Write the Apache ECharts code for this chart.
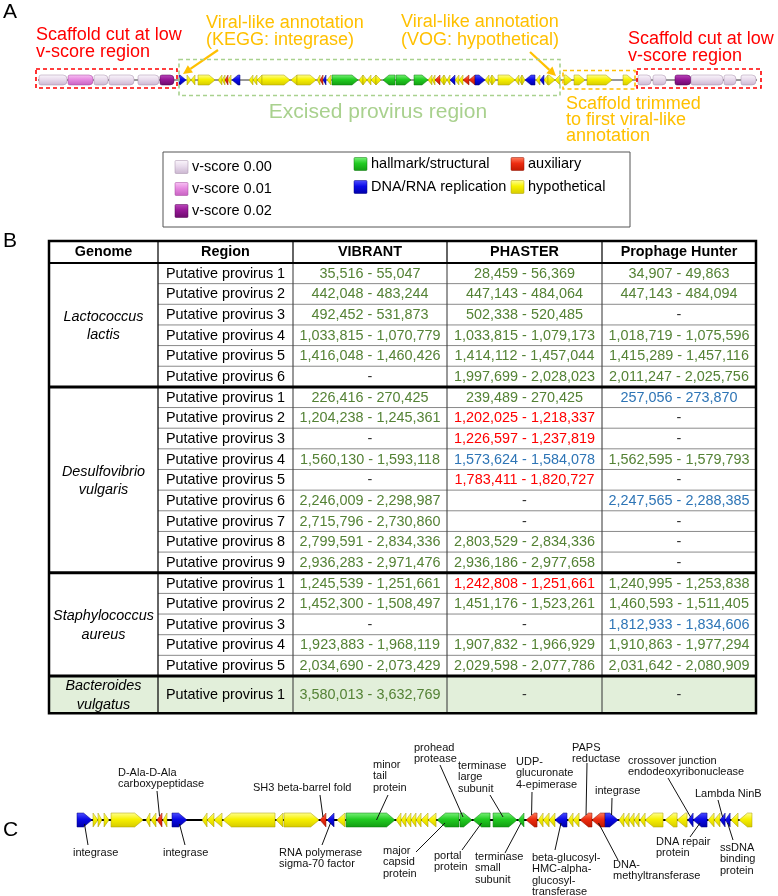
<!DOCTYPE html>
<html>
<head>
<meta charset="utf-8">
<script src="https://cdn.jsdelivr.net/npm/echarts@6/dist/echarts.min.js"></script>
<style>
html,body{margin:0;padding:0;background:#fff;}
#main{width:778px;height:896px;}
</style>
</head>
<body>
<div id="main"></div>
<script>
const FONT = '"Liberation Sans", Arial, Helvetica, sans-serif';

// ================= DATA =================
const geneCategories = ['v-score 0.00','v-score 0.01','v-score 0.02','hallmark/structural','DNA/RNA replication','auxiliary','hypothetical'];

// Panel A genes: [start kb, end kb, strand, category index]
const aGenes = [
 [0.1,2.9,1,0],[3.0,5.5,1,1],[5.6,7.0,1,0],[7.1,9.6,1,0],[10.0,12.1,1,0],[12.2,13.6,1,2],
 [14.1,14.8,1,4],[14.9,15.3,1,6],[15.3,15.7,-1,6],[16.0,17.7,1,6],[18.0,18.4,-1,6],[18.4,18.7,-1,6],[18.7,19.0,-1,5],[19.0,19.3,-1,6],[19.4,20.2,-1,4],
 [21.1,21.5,-1,6],[21.5,21.9,-1,6],[21.9,22.4,-1,6],[22.4,25.2,1,6],[25.3,25.9,-1,6],[25.9,27.8,1,6],[27.9,28.2,-1,6],[28.2,28.5,-1,5],[28.5,28.8,-1,4],[28.9,29.3,-1,6],
 [29.4,32.0,1,3],[32.1,32.5,-1,6],[32.5,32.9,1,6],[32.9,33.3,-1,6],[33.3,33.8,-1,6],[33.8,34.3,1,6],[34.5,35.7,-1,3],[35.8,37.3,1,3],[37.6,39.0,1,3],
 [39.0,39.4,-1,6],[39.4,39.7,-1,6],[39.7,40.2,-1,5],[40.2,40.6,-1,6],[40.6,40.9,1,6],[40.9,41.2,-1,6],[41.2,41.7,-1,4],[41.7,42.1,-1,6],[42.1,42.5,-1,6],[42.5,43.1,-1,5],[43.1,43.7,-1,5],[43.7,44.7,1,4],
 [44.7,45.1,-1,6],[45.1,45.4,-1,6],[45.4,45.8,1,6],[46.0,47.7,1,6],[47.7,48.1,-1,6],[48.1,48.4,-1,6],[48.4,48.7,1,6],[48.7,49.7,-1,4],[49.8,50.2,-1,6],[50.2,50.6,-1,4],[50.6,51.0,-1,6],[51.0,51.7,1,6],[51.7,52.2,-1,6],
 [52.6,53.4,1,6],[53.6,54.7,1,6],[54.9,57.4,1,6],[58.5,59.5,1,6],
 [60.0,61.3,1,0],[61.5,62.8,1,0],[63.7,65.3,1,2],[65.3,68.5,1,0],[68.6,69.8,1,0],[70.3,71.8,1,0]
];
const aTrackLength = 71.9;
// highlighted regions: [start kb, end kb, kind] kind 0 = cut, 1 = excised provirus, 2 = trimmed
const aRegions = [[-0.2,13.9,0],[14.1,52.2,1],[52.5,59.7,2],[59.9,72.3,0]];

// Panel C genes: [start kb, end kb, strand, category index]
const cGenes = [
 [0.00,1.17,1,4],[1.25,1.64,1,6],[1.64,1.95,1,6],[2.11,2.50,1,6],[2.66,5.16,1,6],[5.39,5.70,-1,6],[5.78,6.17,-1,6],
 [6.25,6.64,-1,5],[6.72,7.03,-1,6],[7.42,8.59,1,4],[9.77,10.16,-1,6],[10.16,10.70,-1,6],[10.70,11.33,-1,6],[11.41,15.47,-1,6],
 [15.55,16.09,-1,6],[16.17,18.91,1,6],[18.98,19.45,-1,5],[19.53,20.08,-1,4],[20.31,20.94,-1,6],[21.02,24.84,1,3],
 [24.92,25.31,-1,6],[25.31,25.70,-1,6],[25.70,26.09,-1,6],[26.09,26.48,-1,6],[26.48,26.88,-1,6],[26.88,27.42,-1,6],[27.42,28.05,-1,6],
 [28.13,29.84,-1,3],[29.92,30.86,1,3],[30.94,32.27,-1,3],[32.50,34.38,1,3],[34.45,34.92,-1,3],[35.08,35.94,-1,5],
 [36.02,36.41,-1,6],[36.41,36.88,-1,6],[36.88,37.34,-1,6],[37.34,38.28,-1,4],[38.36,38.75,-1,6],[38.75,39.22,-1,6],
 [39.30,40.23,-1,5],[40.23,41.25,-1,5],[41.25,42.27,1,4],[42.34,42.73,-1,6],[42.73,43.13,-1,6],[43.13,43.52,-1,6],[43.52,43.91,-1,6],
 [43.98,44.38,-1,6],[44.38,45.78,-1,6],[45.94,46.88,-1,6],[46.88,47.66,-1,6],[47.73,48.13,-1,4],[48.13,49.22,-1,4],
 [49.30,49.77,-1,6],[49.77,50.23,-1,6],[50.23,50.63,-1,4],[50.63,51.02,-1,4],[51.09,51.64,-1,6],[51.72,52.73,-1,6]
];
const cTrackLength = 52.73;
// annotations: [gene index, side, text lines]
const cLabels = [
 [7,'top',['D-Ala-D-Ala','carboxypeptidase']],
 [16,'top',['SH3 beta-barrel fold']],
 [19,'top',['minor','tail','protein']],
 [28,'top',['prohead','protease']],
 [30,'top',['terminase','large','subunit']],
 [32,'top',['UDP-','glucuronate','4-epimerase']],
 [39,'top',['PAPS','reductase']],
 [41,'top',['integrase']],
 [50,'top',['crossover junction','endodeoxyribonuclease']],
 [54,'top',['Lambda NinB']],
 [0,'bottom',['integrase']],
 [9,'bottom',['integrase']],
 [17,'bottom',['RNA polymerase','sigma-70 factor']],
 [27,'bottom',['major','capsid','protein']],
 [29,'bottom',['portal','protein']],
 [31,'bottom',['terminase','small','subunit']],
 [36,'bottom',['beta-glucosyl-','HMC-alpha-','glucosyl-','transferase']],
 [40,'bottom',['DNA-','methyltransferase']],
 [51,'bottom',['DNA repair','protein']],
 [55,'bottom',['ssDNA','binding','protein']]
];

// Panel B table
const tableHeader = ['Genome','Region','VIBRANT','PHASTER','Prophage Hunter'];
const genomeNames = [['Lactococcus','lactis'],['Desulfovibrio','vulgaris'],['Staphylococcus','aureus'],['Bacteroides','vulgatus']];
const regionsPerGenome = [6,9,5,1];
const vibrantRanges = [
 [35516,55047],[442048,483244],[492452,531873],[1033815,1070779],[1416048,1460426],null,
 [226416,270425],[1204238,1245361],null,[1560130,1593118],null,[2246009,2298987],[2715796,2730860],[2799591,2834336],[2936283,2971476],
 [1245539,1251661],[1452300,1508497],null,[1923883,1968119],[2034690,2073429],
 [3580013,3632769]
];
const phasterRanges = [
 [28459,56369],[447143,484064],[502338,520485],[1033815,1079173],[1414112,1457044],[1997699,2028023],
 [239489,270425],[1202025,1218337],[1226597,1237819],[1573624,1584078],[1783411,1820727],null,null,[2803529,2834336],[2936186,2977658],
 [1242808,1251661],[1451176,1523261],null,[1907832,1966929],[2029598,2077786],
 null
];
const prophageHunterRanges = [
 [34907,49863],[447143,484094],null,[1018719,1075596],[1415289,1457116],[2011247,2025756],
 [257056,273870],null,null,[1562595,1579793],null,[2247565,2288385],null,null,null,
 [1240995,1253838],[1460593,1511405],[1812933,1834606],[1910863,1977294],[2031642,2080909],
 null
];
// status per row: g = green, r = red, b = blue, - = none
const vibrantStatus        = 'ggggg-' + 'gg-g-gggg' + 'gg-gg' + 'g';
const phasterStatus        = 'gggggg' + 'grrbr--gg' + 'rg-gg' + '-';
const prophageHunterStatus = 'gg-ggg' + 'b--g-b---' + 'ggbgg' + '-';

// ================= STYLE / LAYOUT =================
const catStyle = [
 {top:'#fbf6fc', mid:'#e8dbec', bot:'#cbb6d1', stroke:'#a48ca9'},
 {top:'#f8c2f4', mid:'#e68ae0', bot:'#c760c1', stroke:'#a0449a'},
 {top:'#bb48bb', mid:'#961896', bot:'#6c0a6c', stroke:'#500050'},
 {top:'#7af27a', mid:'#22cc22', bot:'#129c12', stroke:'#0b780b'},
 {top:'#5050ff', mid:'#0a0ae8', bot:'#0000a8', stroke:'#000080'},
 {top:'#ff8060', mid:'#ee2c10', bot:'#c01800', stroke:'#901000'},
 {top:'#ffff96', mid:'#f7f100', bot:'#d6ca00', stroke:'#a89c00'}
];
const regionStyle = [
 {color:'#ff0000', dy0:-11, dy1:8},
 {color:'#a9d18e', dy0:-20.5, dy1:15.5},
 {color:'#ffc000', dy0:-9.5, dy1:9}
];
const statusColor = {g:'#548235', r:'#ff0000', b:'#2e75b6'};
const TABLE = {left:49, top:241, width:707, rowH:20.65, headerSpan:1.065, colEdges:[0,109,244,398,553,707],
  rowSpan:[1,1,1,1.8], shade:[false,false,false,true], font:14.4, nameGap:9.3};
// label layout: [text x, first line y, leader start x, leader start y, end dx, end dy]
const cLabelLayout = [
 [118,773,157,791,0,-4],[253,788,320,795,0,-3],[373,765,388,795,6,0],[414,748,440,765,-3,-3],[458,766,490,795,-2,-3],
 [516,762,532,792,0,-5],[572,748,587,763,0,-5],[595,791,612,798,0,-5],[628,761,668,778,0,-3],[695,794,718,800,0,-3],
 [73,853,88,845,0,4],[163,853,185,845,0,4],[279,853,322,845,0,3],[383,851,416,852,-3,3],[434,856,462,850,0,3],
 [475,857,505,853,0,3],[532,858,555,850,0,3],[613,865,618,860,0,3],[656,842,690,837,0,3],[720,848,733,840,0,3]
];
const legendBox = {x:163, y:152, width:467, height:75};
const legendLayout = [[175,167],[175,189],[175,211],[354,164],[354,187],[511,164],[511,187]];

// ================= HELPERS =================
function grad(st){
  return new echarts.graphic.LinearGradient(0,0,0,1,[{offset:0,color:st.top},{offset:0.45,color:st.mid},{offset:1,color:st.bot}]);
}
function geneRenderer(H, roundedV){
  return function(params, api){
    const s=api.value(0), e=api.value(1), strand=api.value(2), cat=api.value(3);
    const a=api.coord([s,0]), b=api.coord([e,0]);
    const x0=a[0], x1=b[0], y=a[1], w=x1-x0, h=H;
    const st=catStyle[cat];
    if (roundedV && cat<=2) {
      return {type:'rect', shape:{x:x0,y:y-h/2,width:w,height:h,r:[2,4,4,2]}, style:{fill:grad(st), stroke:st.stroke, lineWidth:0.5}};
    }
    const head=Math.min(h*0.6, w);
    let pts;
    if (strand>0) pts=[[x0,y-h/2],[x1-head,y-h/2],[x1,y],[x1-head,y+h/2],[x0,y+h/2]];
    else pts=[[x1,y-h/2],[x0+head,y-h/2],[x0,y],[x0+head,y+h/2],[x1,y+h/2]];
    return {type:'polygon', shape:{points:pts}, style:{fill:grad(st), stroke:st.stroke, lineWidth:0.5}};
  };
}
function txt(t,x,y,opt){
  opt=opt||{};
  return {type:'text', style:{text:t, x:x, y:y, align:opt.align||'left', verticalAlign:'middle',
    fontSize:opt.size||TABLE.font, fontFamily:FONT, fontWeight:opt.weight||'normal', fontStyle:opt.style||'normal', fill:opt.color||'#000'}};
}
function seg(x1,y1,x2,y2,color,w){
  return {type:'line', shape:{x1:x1,y1:y1,x2:x2,y2:y2}, style:{stroke:color, lineWidth:w}};
}
function fmt(n){ return n.toLocaleString('en-US'); }

const rowsData=[]; const genomeBlocks=[];
let tableUnits=TABLE.headerSpan;
(function(){
  let ri=0;
  regionsPerGenome.forEach(function(n,g){
    const start=tableUnits;
    for(let k=0;k<n;k++){ const sp=TABLE.rowSpan[g]; rowsData.push([tableUnits,tableUnits+sp,ri,g,k]); tableUnits+=sp; ri++; }
    genomeBlocks.push([start,tableUnits,g]);
  });
})();
const rangeCols=[vibrantRanges, phasterRanges, prophageHunterRanges];
const statusCols=[vibrantStatus, phasterStatus, prophageHunterStatus];
function colX(api,y){ return TABLE.colEdges.map(function(c){return api.coord([c,y])[0];}); }

function renderRow(params, api){
  const y0=api.value(0), y1=api.value(1), i=api.value(2), g=api.value(3), k=api.value(4);
  const E=colX(api,y0);
  const top=api.coord([0,y0])[1], bot=api.coord([0,y1])[1], cy=(top+bot)/2;
  const ch=[];
  if (TABLE.shade[g]) ch.push({type:'rect', shape:{x:E[1],y:top,width:E[5]-E[1],height:bot-top}, style:{fill:'#e2efda'}});
  ch.push(txt('Putative provirus '+(k+1),(E[1]+E[2])/2,cy+0.5,{align:'center'}));
  for(let c=0;c<3;c++){
    const v=rangeCols[c][i];
    const t=v? fmt(v[0])+' - '+fmt(v[1]) : '-';
    const col=v? statusColor[statusCols[c][i]] : '#333';
    ch.push(txt(t,(E[c+2]+E[c+3])/2,cy+0.5,{align:'center',color:col}));
  }
  ch.push(seg(E[1],bot,E[5],bot,'#8a8a8a',1));
  for(let c=2;c<5;c++) ch.push(seg(E[c],top,E[c],bot,'#333',1));
  return {type:'group', children:ch};
}
function renderGenome(params, api){
  const y0=api.value(0), y1=api.value(1), g=api.value(2);
  const E=colX(api,y0);
  const top=api.coord([0,y0])[1], bot=api.coord([0,y1])[1], cy=(top+bot)/2+1;
  const ch=[];
  if (TABLE.shade[g]) ch.push({type:'rect', shape:{x:E[0],y:top,width:E[1]-E[0],height:bot-top}, style:{fill:'#e2efda'}});
  const nm=genomeNames[g];
  ch.push(txt(nm[0],(E[0]+E[1])/2,cy-TABLE.nameGap,{align:'center',style:'italic'}));
  ch.push(txt(nm[1],(E[0]+E[1])/2,cy+TABLE.nameGap,{align:'center',style:'italic'}));
  ch.push(seg(E[1],top,E[1],bot,'#111',1.3));
  if (g>0) ch.push(seg(E[0],top,E[5],top,'#000',3));
  return {type:'group', children:ch};
}
function renderFrame(params, api){
  const y0=api.value(0), y1=api.value(1);
  const E=colX(api,y0);
  const top=api.coord([0,y0])[1], bot=api.coord([0,y1])[1];
  const hb=api.coord([0,TABLE.headerSpan])[1];
  const ch=[];
  for(let c=0;c<5;c++) ch.push(txt(tableHeader[c],(E[c]+E[c+1])/2,(top+hb)/2+0.5,{align:'center',weight:'bold'}));
  for(let c=1;c<5;c++) ch.push(seg(E[c],top,E[c],hb,'#111',1.3));
  ch.push(seg(E[0],hb,E[5],hb,'#000',2));
  ch.push({type:'rect', shape:{x:E[0],y:top,width:E[5]-E[0],height:bot-top}, style:{fill:'none',stroke:'#000',lineWidth:2.5}});
  return {type:'group', children:ch};
}
function renderRegion(params, api){
  const s=api.value(0), e=api.value(1), kind=api.value(2);
  const a=api.coord([s,0]), b=api.coord([e,0]);
  const st=regionStyle[kind];
  return {type:'rect', shape:{x:a[0],y:a[1]+st.dy0,width:b[0]-a[0],height:st.dy1-st.dy0},
    style:{fill:'none',stroke:st.color,lineWidth:1.6,lineDash:[4,3]}};
}
function renderLabel(params, api){
  const gi=api.value(0), i=params.dataIndex;
  const L=cLabelLayout[i];
  const gene=cGenes[gi];
  const p=api.coord([(gene[0]+gene[1])/2,0]);
  const ch=[];
  cLabels[i][2].forEach(function(t,j){ ch.push(txt(t,L[0],L[1]+j*11.3,{size:11,color:'#111'})); });
  ch.push(seg(L[2],L[3],p[0]+L[4],p[1]+L[5],'#111',1));
  return {type:'group', children:ch};
}

// ================= GRAPHIC (annotations, legend) =================
const graphic=[];
function gtext(t,x,y,size,color,align){
  graphic.push({type:'text', x:x, y:y, style:{text:t, fontSize:size, fontFamily:FONT, fill:color, align:align||'left', verticalAlign:'middle'}});
}
gtext('A',3,12.5,21,'#000');
gtext('B',3,241,21,'#000');
gtext('C',3,830,21,'#000');
gtext('Scaffold cut at low',36,35,18,'#ff0000');
gtext('v-score region',36,52,18,'#ff0000');
gtext('Viral-like annotation',206,23,18,'#ffc000');
gtext('(KEGG: integrase)',206,40,18,'#ffc000');
gtext('Viral-like annotation',401,22,18,'#ffc000');
gtext('(VOG: hypothetical)',401,40,18,'#ffc000');
gtext('Scaffold cut at low',628,39,18,'#ff0000');
gtext('v-score region',628,56,18,'#ff0000');
gtext('Excised provirus region',378,112,21,'#a9d18e','center');
gtext('Scaffold trimmed',566,104,18,'#ffc000');
gtext('to first viral-like',566,120,18,'#ffc000');
gtext('annotation',566,136,18,'#ffc000');
function arrow(x1,y1,x2,y2,color){
  const dx=x2-x1, dy=y2-y1, L=Math.sqrt(dx*dx+dy*dy), ux=dx/L, uy=dy/L;
  const hl=9, hw=4.5;
  const bx=x2-ux*hl, by=y2-uy*hl;
  graphic.push({type:'line', shape:{x1:x1,y1:y1,x2:bx,y2:by}, style:{stroke:color,lineWidth:2.2}});
  graphic.push({type:'polygon', shape:{points:[[x2,y2],[bx-uy*hw,by+ux*hw],[bx+uy*hw,by-ux*hw]]}, style:{fill:color}});
}
arrow(218,50,183,74,'#ffc000');
arrow(530,52,556,76,'#ffc000');
graphic.push({type:'rect', shape:legendBox, style:{fill:'#fff',stroke:'#555',lineWidth:1}});
geneCategories.forEach(function(name,i){
  const L=legendLayout[i];
  graphic.push({type:'rect', shape:{x:L[0],y:L[1]-6.5,width:13,height:13,r:1}, style:{fill:grad(catStyle[i]),stroke:catStyle[i].stroke,lineWidth:0.5}});
  gtext(name,L[0]+17,L[1],14.5,'#000');
});

// ================= OPTION =================
const option={
  animation:false,
  backgroundColor:'#fff',
  graphic:graphic,
  grid:[
    {left:38, top:60, width:719, height:40, show:false},
    {left:77, top:800, width:675, height:40, show:false},
    {left:TABLE.left, top:TABLE.top, width:TABLE.width, height:tableUnits*TABLE.rowH, show:false}
  ],
  xAxis:[
    {type:'value', gridIndex:0, min:0, max:aTrackLength, show:false},
    {type:'value', gridIndex:1, min:0, max:cTrackLength, show:false},
    {type:'value', gridIndex:2, min:0, max:TABLE.width, show:false}
  ],
  yAxis:[
    {type:'value', gridIndex:0, min:-1, max:1, show:false},
    {type:'value', gridIndex:1, min:-1, max:1, show:false},
    {type:'value', gridIndex:2, min:0, max:tableUnits, inverse:true, show:false}
  ],
  series:[
    {type:'line', xAxisIndex:0, yAxisIndex:0, data:[[0,0],[aTrackLength,0]], symbol:'none', lineStyle:{color:'#333',width:1}, z:1, silent:true},
    {type:'custom', xAxisIndex:0, yAxisIndex:0, data:aGenes, renderItem:geneRenderer(10,true), z:3, silent:true},
    {type:'custom', xAxisIndex:0, yAxisIndex:0, data:aRegions, renderItem:renderRegion, z:4, silent:true},
    {type:'line', xAxisIndex:1, yAxisIndex:1, data:[[0,0],[cTrackLength,0]], symbol:'none', lineStyle:{color:'#000',width:2.2}, z:1, silent:true},
    {type:'custom', xAxisIndex:1, yAxisIndex:1, data:cGenes, renderItem:geneRenderer(14,false), z:3, silent:true},
    {type:'custom', xAxisIndex:1, yAxisIndex:1, data:cLabels.map(function(l){return [l[0]];}), renderItem:renderLabel, z:4, silent:true},
    {type:'custom', xAxisIndex:2, yAxisIndex:2, data:rowsData, renderItem:renderRow, z:2, silent:true},
    {type:'custom', xAxisIndex:2, yAxisIndex:2, data:genomeBlocks, renderItem:renderGenome, z:3, silent:true},
    {type:'custom', xAxisIndex:2, yAxisIndex:2, data:[[0,tableUnits]], renderItem:renderFrame, z:4, silent:true}
  ]
};
const chart=echarts.init(document.getElementById('main'));
chart.setOption(option);
</script>
</body>
</html>
